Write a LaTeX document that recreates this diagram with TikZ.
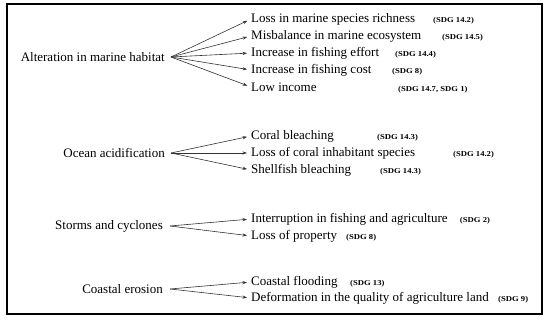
\documentclass[tikz,border=0pt]{standalone}
\usepackage{fontspec}
\setmainfont{Liberation Serif}
\newfontfamily\sdgfont{Liberation Serif}[FakeStretch=1.15]
\usetikzlibrary{arrows.meta}
\tikzset{
  src/.style={anchor=east,inner sep=0pt,font=\fontsize{13}{13}\selectfont},
  tgt/.style={anchor=west,inner sep=0pt,font=\fontsize{13}{13}\selectfont},
  sdg/.style={anchor=base west,inner sep=0pt,font=\sdgfont\bfseries\fontsize{7.5}{7.5}\selectfont},
  link/.style={draw=black!80,line width=0.6pt,-{Stealth[length=4.5pt,width=3.2pt]},shorten >=4pt},
  frame/.style={draw=black,line width=1.2pt}
}
\begin{document}
\begin{tikzpicture}[x=1pt,y=-1pt]
\useasboundingbox (0,0) rectangle (550,320);
\draw[frame] (7,4) rectangle (542,314);

% Alteration in marine habitat
\node[src] (a) at (165,57) {Alteration in marine habitat};
\coordinate (ao) at (171,57);
\node[tgt] (a1) at (251,19) {Loss in marine species richness};
\node[tgt] (a2) at (251,36) {Misbalance in marine ecosystem};
\node[tgt] (a3) at (251,53) {Increase in fishing effort};
\node[tgt] (a4) at (251,70) {Increase in fishing cost};
\node[tgt] (a5) at (251,87) {Low income};
\node[sdg] (s1) at (433,0 |- a1.base) {(SDG 14.2)};
\node[sdg] (s2) at (442,0 |- a2.base) {(SDG 14.5)};
\node[sdg] (s3) at (395,0 |- a3.base) {(SDG 14.4)};
\node[sdg] (s4) at (392,0 |- a4.base) {(SDG 8)};
\node[sdg] (s5) at (398,0 |- a5.base) {(SDG 14.7, SDG 1)};
\foreach \t in {a1,a2,a3,a4,a5} \draw[link] (ao) -- (\t.west);

% Ocean acidification
\node[src] (o) at (165,153) {Ocean acidification};
\coordinate (oo) at (171,153);
\node[tgt] (o1) at (251,136) {Coral bleaching};
\node[tgt] (o2) at (251,153) {Loss of coral inhabitant species};
\node[tgt] (o3) at (251,170) {Shellfish bleaching};
\node[sdg] (s6) at (377,0 |- o1.base) {(SDG 14.3)};
\node[sdg] (s7) at (453,0 |- o2.base) {(SDG 14.2)};
\node[sdg] (s8) at (380,0 |- o3.base) {(SDG 14.3)};
\foreach \t in {o1,o2,o3} \draw[link] (oo) -- (\t.west);

% Storms and cyclones
\node[src] (st) at (163,226) {Storms and cyclones};
\coordinate (sto) at (170,226);
\node[tgt] (st1) at (251,219) {Interruption in fishing and agriculture};
\node[tgt] (st2) at (251,236) {Loss of property};
\node[sdg] (s9) at ([xshift=12pt]st1.base east) {(SDG 2)};
\node[sdg] (s10) at (346,0 |- st2.base) {(SDG 8)};
\foreach \t in {st1,st2} \draw[link] (sto) -- (\t.west);

% Coastal erosion
\node[src] (c) at (163,289) {Coastal erosion};
\coordinate (co) at (170,289);
\node[tgt] (c1) at (251,282) {Coastal flooding};
\node[tgt] (c2) at (251,298) {Deformation in the quality of agriculture land};
\node[sdg] (s11) at (350,0 |- c1.base) {(SDG 13)};
\node[sdg] (s12) at (498,0 |- c2.base) {(SDG 9)};
\foreach \t in {c1,c2} \draw[link] (co) -- (\t.west);
\end{tikzpicture}
\end{document}
